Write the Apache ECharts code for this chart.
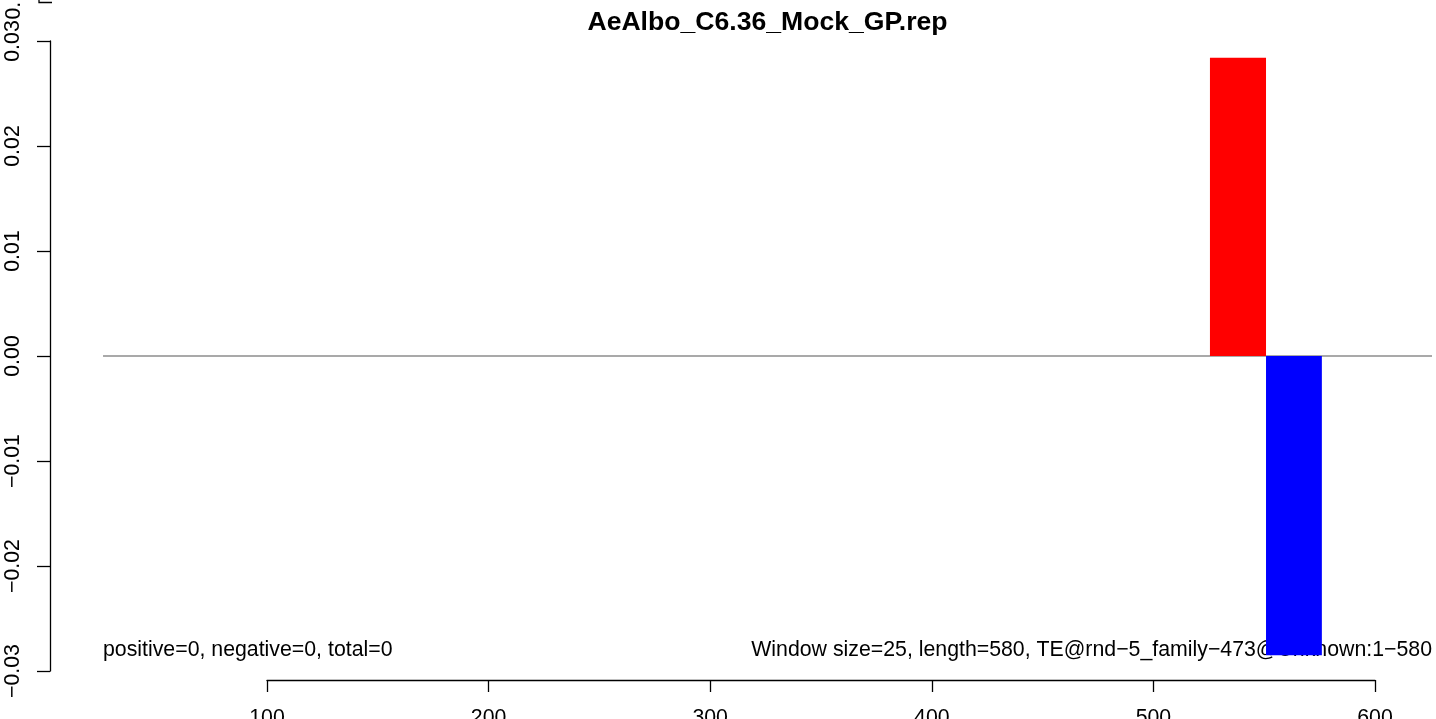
<!DOCTYPE html>
<html>
<head>
<meta charset="utf-8">
<script src="https://cdn.jsdelivr.net/npm/echarts@6/dist/echarts.min.js"></script>
<style>
html,body{margin:0;padding:0;background:#fff;}
#chart{width:1436px;height:719px;}
</style>
</head>
<body>
<div id="chart"></div>
<script>
// ---- data ----
const chartTitle = 'AeAlbo_C6.36_Mock_GP.rep';
const windowStarts = [525.5, 550.8];
const windowEnds = [550.8, 576.0];
const windowValues = [0.0284, -0.0285];
const barColors = ['#ff0000', '#0000ff'];
const yTickValues = [-0.03, -0.02, -0.01, 0.00, 0.01, 0.02, 0.03];
const yTickLabels = ['\u22120.03', '\u22120.02', '\u22120.01', '0.00', '0.01', '0.02', '0.03'];
const xTickValues = [100, 200, 300, 400, 500, 600];
const xTickLabels = ['100', '200', '300', '400', '500', '600'];
const zeroLineX = [26, 625.7];
const zeroLineY = [0, 0];
const infoLeft = 'positive=0, negative=0, total=0';
const infoRight = 'Window size=25, length=580, TE@rnd\u22125_family\u2212473@Unknown:1\u2212580';
const strayLabel = '0.';

// ---- chart ----
const FONT = 'Liberation Sans, Arial, Helvetica, sans-serif';
const chart = echarts.init(document.getElementById('chart'), null, {renderer: 'canvas'});
const barData = windowStarts.map((s, i) => [s, windowEnds[i], windowValues[i]]);
const lineData = zeroLineX.map((x, i) => [x, zeroLineY[i]]);

const option = {
  backgroundColor: '#ffffff',
  animation: false,
  grid: [
    {left: 50, right: 4, top: 41, bottom: 48, containLabel: false, outerBoundsMode: 'none'},
    {left: 267, right: 61, top: 600, bottom: 39, containLabel: false, outerBoundsMode: 'none'}
  ],
  xAxis: [
    {type: 'value', gridIndex: 0, min: 2.07, max: 625.7, show: false},
    {
      type: 'value', gridIndex: 1, min: xTickValues[0], max: xTickValues[xTickValues.length - 1],
      interval: 100, position: 'bottom',
      axisLine: {show: true, lineStyle: {color: '#000', width: 1.3}},
      axisTick: {show: true, length: 12, lineStyle: {color: '#000', width: 1.3}},
      splitLine: {show: false},
      axisLabel: {
        margin: 28, fontSize: 21.3, color: '#000', fontFamily: FONT,
        formatter: v => { const i = xTickValues.indexOf(Math.round(v)); return i >= 0 ? xTickLabels[i] : ''; }
      }
    }
  ],
  yAxis: [
    {
      type: 'value', gridIndex: 0, min: yTickValues[0], max: yTickValues[yTickValues.length - 1],
      interval: 0.01,
      axisLine: {show: true, lineStyle: {color: '#000', width: 1.3}},
      axisTick: {show: true, length: 13, lineStyle: {color: '#000', width: 1.3}},
      splitLine: {show: false},
      axisLabel: {
        rotate: 90, margin: 26, fontSize: 21.3, color: '#000', fontFamily: FONT,
        formatter: v => { const i = Math.round((v - yTickValues[0]) / 0.01); return yTickLabels[i] || ''; }
      }
    },
    {type: 'value', gridIndex: 1, min: 0, max: 1, show: false}
  ],
  graphic: [
    {type: 'text', z: 0, x: 767.5, y: 23, style: {text: chartTitle, fontSize: 26.6, fontWeight: 'bold', fontFamily: FONT, fill: '#000', align: 'center', verticalAlign: 'middle'}},
    {type: 'text', z: 0, x: 103, y: 650, style: {text: infoLeft, fontSize: 21.3, fontFamily: FONT, fill: '#000', align: 'left', verticalAlign: 'middle'}},
    {type: 'text', z: 0, x: 1432, y: 650, style: {text: infoRight, fontSize: 21.3, fontFamily: FONT, fill: '#000', align: 'right', verticalAlign: 'middle'}},
    {type: 'text', z: 0, x: 14, y: 19.5, rotation: Math.PI / 2, style: {text: strayLabel, fontSize: 21.3, fontFamily: FONT, fill: '#000', align: 'left', verticalAlign: 'middle'}},
    {type: 'polyline', z: 0, shape: {points: [[39, 0], [39, 2.5], [52, 2.5]]}, style: {stroke: '#000', lineWidth: 1.3, fill: null}}
  ],
  series: [
    {
      type: 'line', xAxisIndex: 0, yAxisIndex: 0, z: 1, data: lineData, showSymbol: false, symbol: 'none',
      lineStyle: {color: '#8c8c8c', width: 1.5}, silent: true
    },
    {
      type: 'custom', xAxisIndex: 0, yAxisIndex: 0, z: 3, data: barData,
      encode: {x: [0, 1], y: 2},
      renderItem: function (params, api) {
        const p0 = api.coord([api.value(0), 0]);
        const p1 = api.coord([api.value(1), api.value(2)]);
        return {
          type: 'rect',
          shape: {x: p0[0], y: Math.min(p0[1], p1[1]), width: p1[0] - p0[0], height: Math.abs(p1[1] - p0[1])},
          style: {fill: barColors[params.dataIndex]}
        };
      }
    }
  ]
};
chart.setOption(option);
</script>
</body>
</html>
